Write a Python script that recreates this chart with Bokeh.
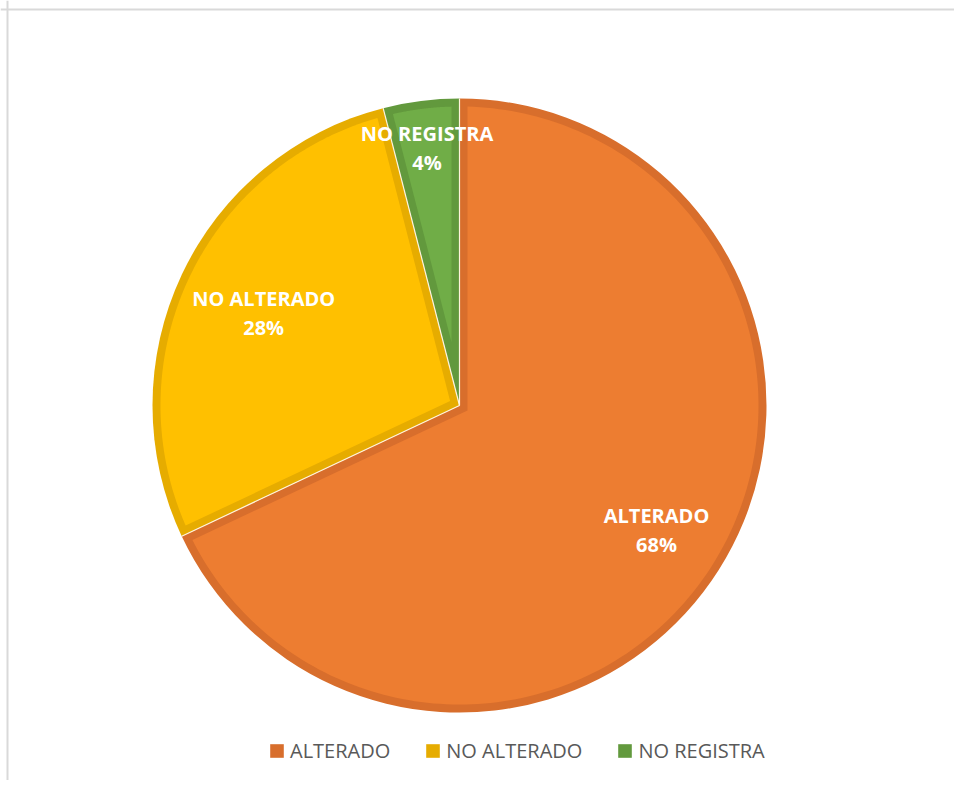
import numpy as np
from bokeh.plotting import figure
from bokeh.models import ColumnDataSource, Range1d, Span, Legend, LegendItem
from bokeh.core.properties import value
from bokeh.embed import file_html
from bokeh.resources import INLINE

# ---- data ----
categories = ["ALTERADO", "NO ALTERADO", "NO REGISTRA"]
percents = [68, 28, 4]
fill_colors = ["#ED7D31", "#FFC000", "#70AD47"]
edge_colors = ["#D86E2C", "#E6AC00", "#62993D"]
label_radius_frac = [0.76, 0.705, 0.845]

# ---- geometry (pixel-like data units; 1 unit = 1 px) ----
W, H = 954, 780
CX, CY = 459, 405          # pie centre in canvas pixels
R = 307                    # pie radius
D = 8                      # bevel border width

vals = np.array(percents, dtype=float)
frac = vals / vals.sum()
cum = np.concatenate([[0.0], np.cumsum(frac)])
start = np.pi / 2 - 2 * np.pi * cum[:-1]
end = np.pi / 2 - 2 * np.pi * cum[1:]

p = figure(width=W, height=H, output_backend="svg", toolbar_location=None,
           x_range=Range1d(-CX, W - CX), y_range=Range1d(CY - H, CY),
           min_border=0, outline_line_color=None)
p.axis.visible = False
p.grid.visible = False
p.background_fill_color = "white"
p.border_fill_color = "white"

# frame lines (chart area border, cropped)
p.add_layout(Span(location=-CX + 7, dimension="height", line_color="#D9D9D9", line_width=2))
p.add_layout(Span(location=CY - 9, dimension="width", line_color="#D9D9D9", line_width=2))

src = ColumnDataSource(dict(cat=categories, start=start, end=end,
                            fill=fill_colors, edge=edge_colors))
wedges = p.wedge(x=0, y=0, radius=R, start_angle="start", end_angle="end",
                 direction="clock", fill_color="edge", line_color=None, source=src)

# inner (lighter) part of each slice, inset by D
xs, ys = [], []
for a2, a1 in zip(start, end):
    h = (a2 - a1) / 2
    b = (a1 + a2) / 2
    P = (D / np.sin(h)) * np.array([np.cos(b), np.sin(b)])
    pts_angles = []
    for a in (a1, a2):
        u = np.array([np.cos(a), np.sin(a)])
        pu = P @ u
        t = -pu + np.sqrt(pu ** 2 - P @ P + (R - D) ** 2)
        q = P + t * u
        pts_angles.append(np.arctan2(q[1], q[0]))
    f1, f2 = pts_angles
    while f2 < f1:
        f2 += 2 * np.pi
    arc = np.linspace(f1, f2, 200)
    xs.append(list(np.concatenate([[P[0]], (R - D) * np.cos(arc)])))
    ys.append(list(np.concatenate([[P[1]], (R - D) * np.sin(arc)])))
p.patches(xs=xs, ys=ys, fill_color=fill_colors, line_color=None)

# thin light separators between slices
p.segment(x0=0, y0=0, x1=R * np.cos(start), y1=R * np.sin(start),
          line_color="#FFF3DC", line_width=1.2)

# data labels
mid = (start + end) / 2
lr = np.array(label_radius_frac) * R
lx = lr * np.cos(mid)
ly = lr * np.sin(mid)
pct = [f"{v:.0f}%" for v in frac * 100]
p.text(x=lx, y=ly + 15, text=categories, text_font=value("Open Sans"),
       text_font_style="bold", text_font_size="20px", text_color="white",
       text_align="center", text_baseline="middle")
p.text(x=lx, y=ly - 14, text=pct, text_font=value("Open Sans"),
       text_font_style="bold", text_font_size="20px", text_color="white",
       text_align="center", text_baseline="middle")

legend = Legend(items=[LegendItem(label=c, renderers=[wedges], index=i)
                       for i, c in enumerate(categories)],
                orientation="horizontal", location=(268, 16),
                padding=0, margin=0, spacing=34, label_standoff=5,
                glyph_width=17, glyph_height=17,
                label_text_font="Open Sans", label_text_font_size="20px",
                label_text_color="#595959", border_line_color=None,
                background_fill_alpha=0)
p.add_layout(legend)

open("out.html", "w").write(file_html(p, INLINE))
